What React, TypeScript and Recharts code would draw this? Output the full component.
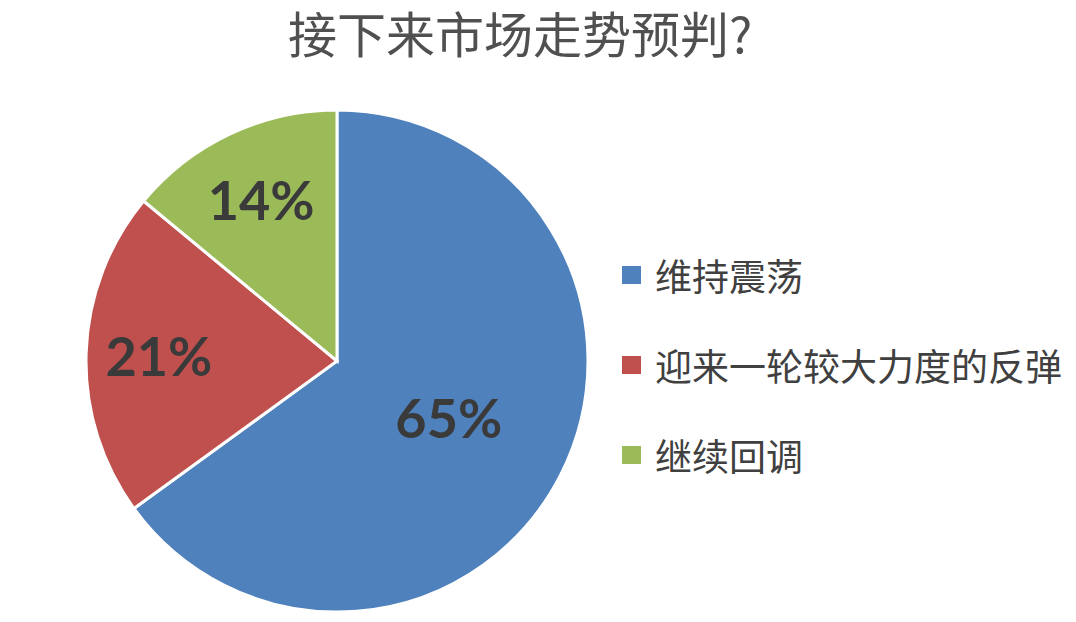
import { Cell, Pie, PieChart } from "recharts";

const categories = ["维持震荡", "迎来一轮较大力度的反弹", "继续回调"];
const shares = [65, 21, 14];
const sliceColors = ["#4f81bd", "#c0504d", "#9bbb59"];
const chartTitle = "接下来市场走势预判?";

const RAD = Math.PI / 180;

const data = categories.map((name, i) => ({ name, value: shares[i] }));

function renderLabel(props: any) {
  const { cx, cy, midAngle, outerRadius, percent, value } = props;
  // the big slice keeps its label nearer the centre, the small ones further out
  const r = outerRadius * (percent > 0.5 ? 0.5 : 0.71);
  const x = cx + r * Math.cos(-midAngle * RAD);
  const y = cy + r * Math.sin(-midAngle * RAD);
  return (
    <text
      x={x}
      y={y}
      textAnchor="middle"
      dominantBaseline="central"
      fill="#3a3a3a"
      fontFamily="Lato, 'Open Sans', sans-serif"
      fontWeight={700}
      fontSize={54}
    >
      {`${value}%`}
    </text>
  );
}

function LegendBox() {
  return (
    <div
      style={{
        position: "absolute",
        left: 622,
        top: 254,
        display: "flex",
        flexDirection: "column",
        gap: 48,
      }}
    >
      {data.map((d, i) => (
        <div key={d.name} style={{ display: "flex", alignItems: "center", height: 42 }}>
          <span
            style={{ width: 19, height: 18, background: sliceColors[i], marginRight: 14, flex: "none" }}
          />
          <span
            style={{
              fontFamily: "'Noto Sans CJK SC', sans-serif",
              fontSize: 37,
              color: "#404040",
              whiteSpace: "nowrap",
              lineHeight: "42px",
            }}
          >
            {d.name}
          </span>
        </div>
      ))}
    </div>
  );
}

export default function App() {
  return (
    <div style={{ position: "absolute", left: 0, top: 0, width: 1076, height: 622, background: "#fff" }}>
      <div
        style={{
          position: "absolute",
          left: 0,
          top: 4,
          width: 1040,
          textAlign: "center",
          fontFamily: "'Noto Sans CJK SC', serif",
          fontSize: 49,
          color: "#505050",
          lineHeight: "56px",
        }}
      >
        {chartTitle}
      </div>
      <PieChart width={1076} height={622} margin={{ top: 0, right: 0, bottom: 0, left: 0 }}>
        <Pie
          data={data}
          dataKey="value"
          nameKey="name"
          cx={337}
          cy={361}
          outerRadius={251}
          startAngle={90}
          endAngle={-270}
          stroke="#ffffff"
          strokeWidth={3}
          label={renderLabel}
          labelLine={false}
          isAnimationActive={false}
        >
          {data.map((_, i) => (
            <Cell key={i} fill={sliceColors[i]} />
          ))}
        </Pie>
      </PieChart>
      <LegendBox />
    </div>
  );
}
